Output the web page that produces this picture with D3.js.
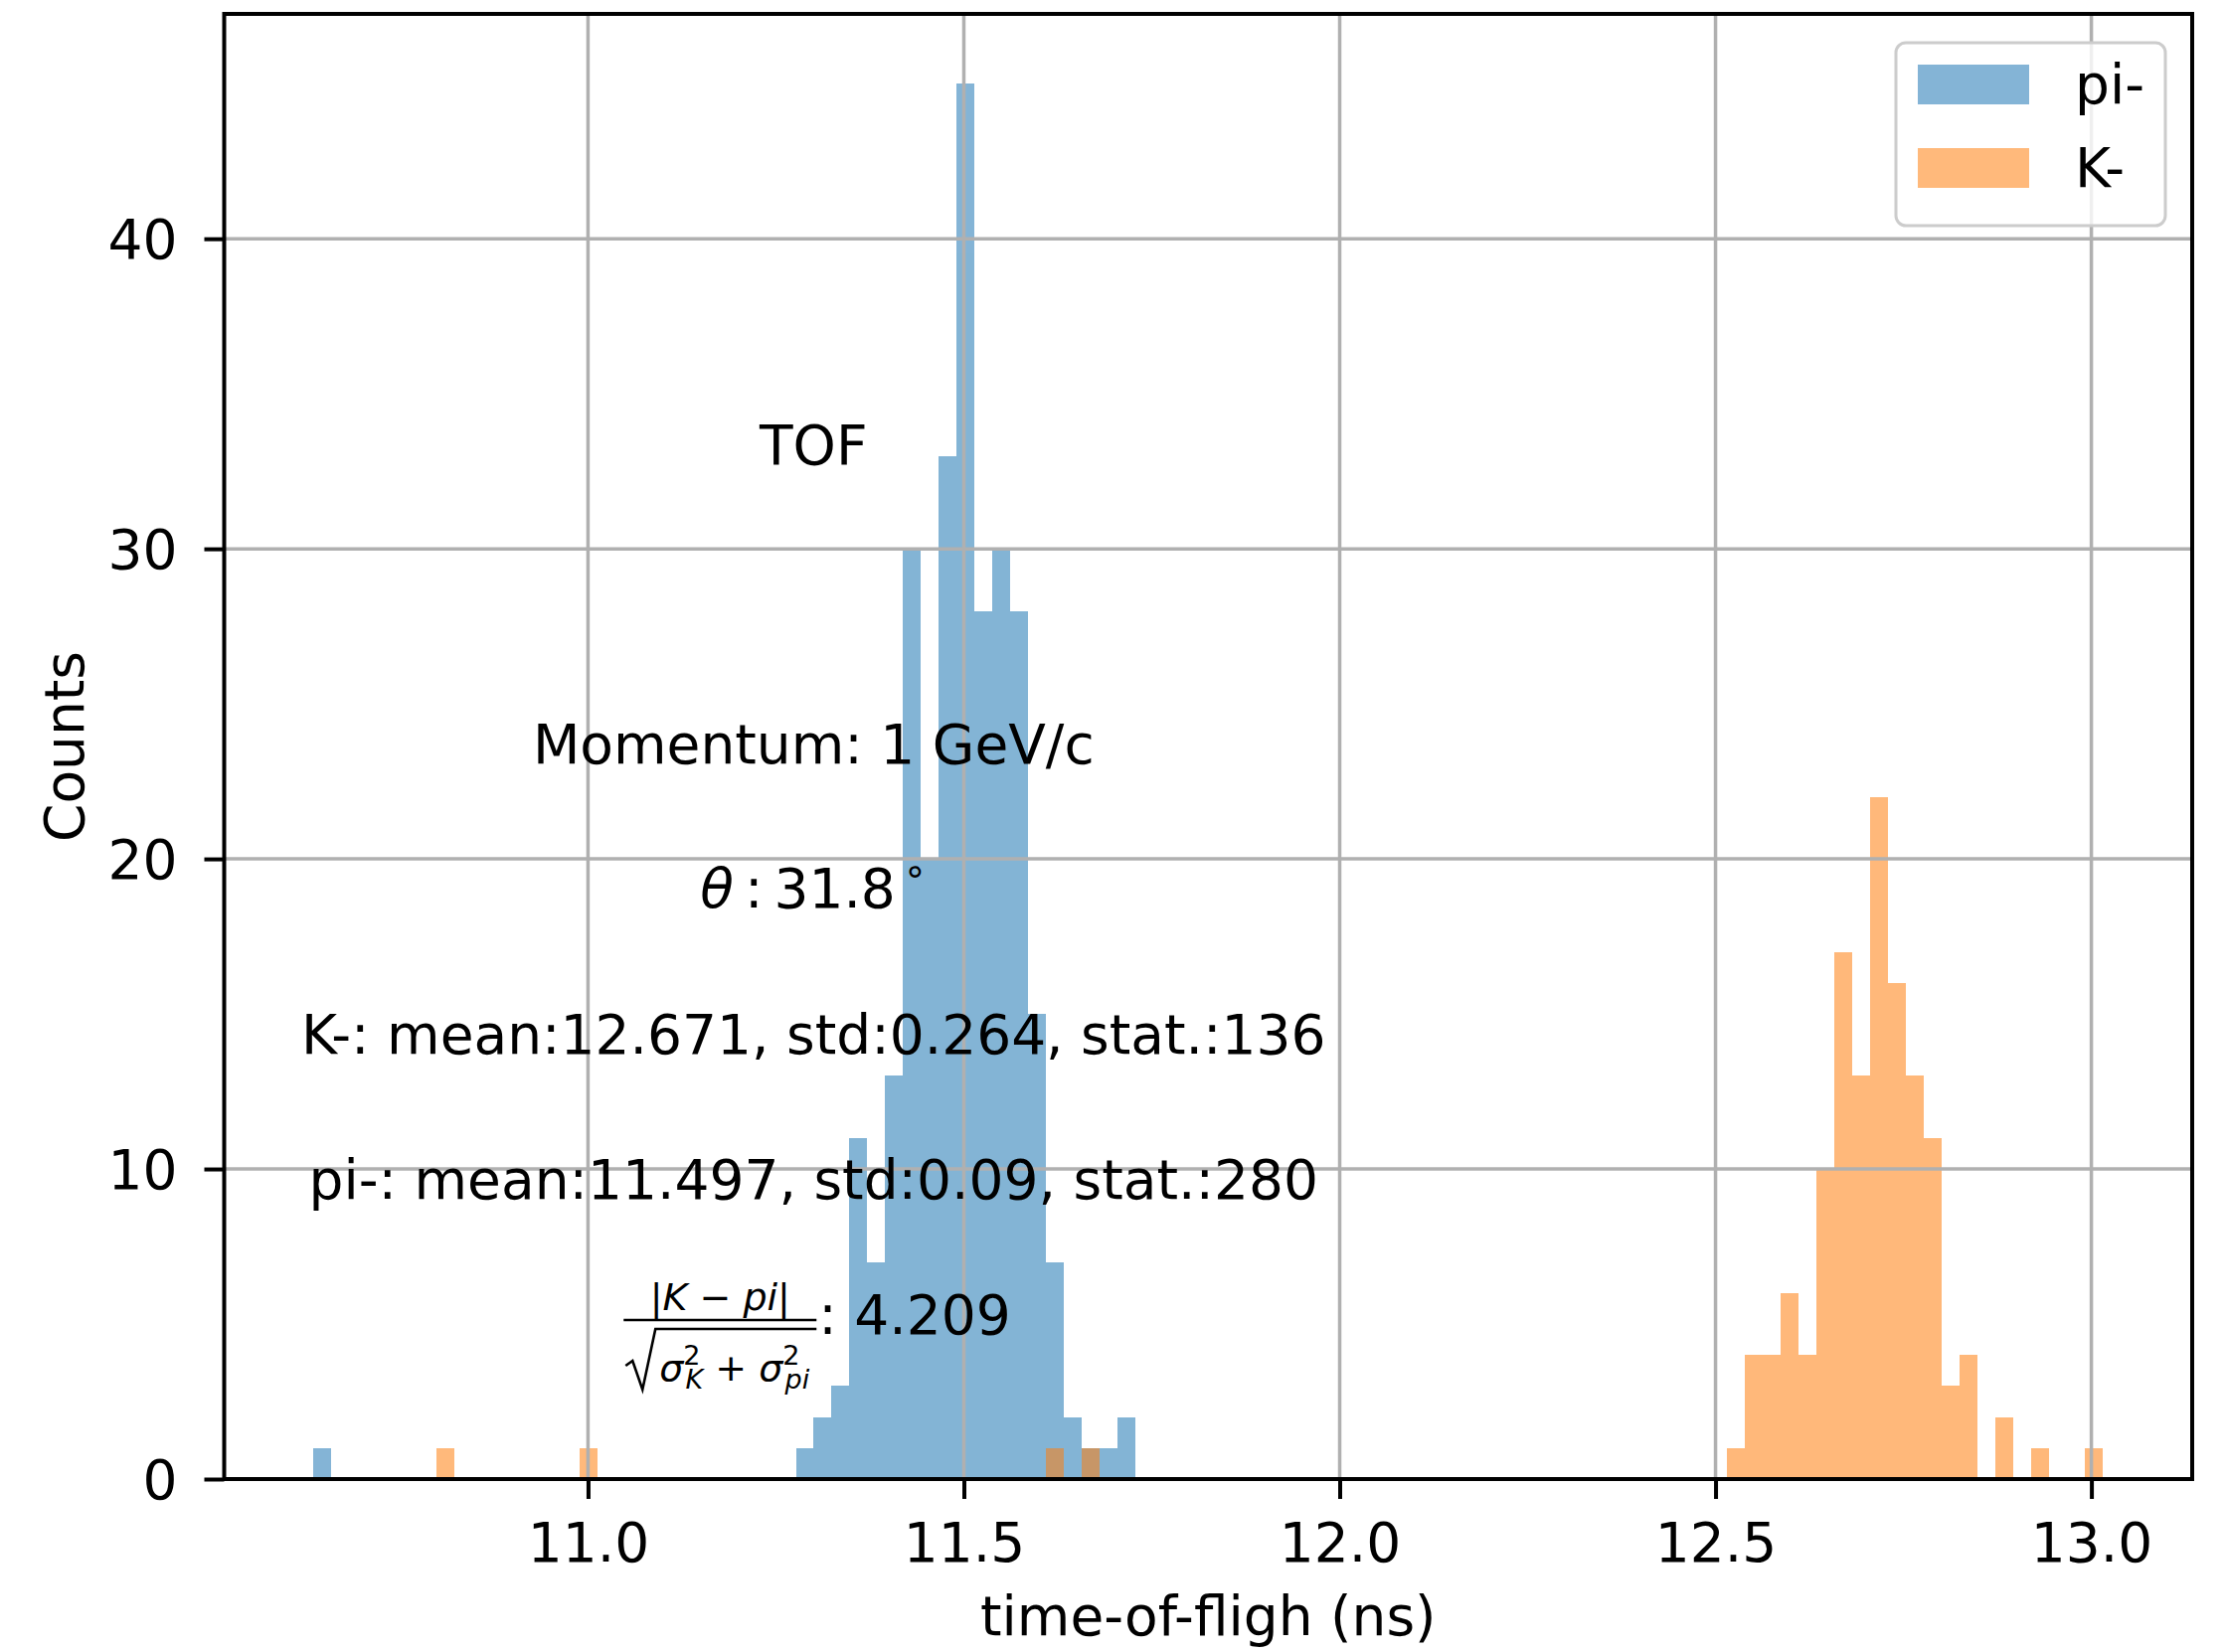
<!DOCTYPE html>
<html>
<head>
<meta charset="utf-8">
<script src="https://cdn.jsdelivr.net/npm/d3@7"></script>
<style>
  html, body { margin: 0; padding: 0; background: #ffffff; }
  svg { display: block; }
  text { font-family: "DejaVu Sans", sans-serif; fill: #000; }
</style>
</head>
<body>
<svg id="chart" width="2238" height="1662"></svg>
<script>
// ---------------- data ----------------
const seriesNames = ["pi-", "K-"];
const seriesColors = ["#1f77b4", "#ff7f0e"];

// pi- histogram: 46 bins
const piBinStart = 10.635;
const piBinWidth = 0.02376;
const piCounts = [
  1, 0, 0, 0, 0, 0, 0, 0, 0, 0,
  0, 0, 0, 0, 0, 0, 0, 0, 0, 0,
  0, 0, 0, 0, 0, 0, 0,
  1, 2, 3, 11, 7, 13, 30, 20, 33, 45, 28, 30, 28, 15, 7, 2, 1, 1, 2
];

// K- histogram: 93 bins
const kBinStart = 10.798;
const kBinWidth = 0.02384;
const kCounts = [
  1, 0, 0, 0, 0, 0, 0, 0, 1, 0,
  0, 0, 0, 0, 0, 0, 0, 0, 0, 0,
  0, 0, 0, 0, 0, 0, 0, 0, 0, 0,
  0, 0, 0, 0, 1, 0, 1, 0, 0, 0,
  0, 0, 0, 0, 0, 0, 0, 0, 0, 0,
  0, 0, 0, 0, 0, 0, 0, 0, 0, 0,
  0, 0, 0, 0, 0, 0, 0, 0, 0, 0,
  0, 0,
  1, 4, 4, 6, 4, 10, 17, 13, 22, 16, 13, 11, 3, 4, 0, 2, 0, 1, 0, 0, 1
];

const xTicks = [11.0, 11.5, 12.0, 12.5, 13.0];
const xTickLabels = ["11.0", "11.5", "12.0", "12.5", "13.0"];
const yTicks = [0, 10, 20, 30, 40];
const yTickLabels = ["0", "10", "20", "30", "40"];

const xLabel = "time-of-fligh (ns)";
const yLabel = "Counts";

const titleText = "TOF";
const momentumText = "Momentum: 1 GeV/c";
const thetaValue = "31.8";
const kStatsText = "K-: mean:12.671, std:0.264, stat.:136";
const piStatsText = "pi-: mean:11.497, std:0.09, stat.:280";
const separationValue = "4.209";

// annotation anchors (data coordinates)
const annX = 11.30;
const annY = { title: 32.73, momentum: 23.08, theta: 18.43, k: 13.72, pi: 9.04, sep: 4.68 };

// ---------------- layout ----------------
const W = 2238, H = 1662;
const plot = { left: 225.5, right: 2205, top: 14, bottom: 1488 };
const FS = 55;
const gridColor = "#b0b0b0";
const alpha = 0.55;

const svg = d3.select("#chart");

const piBins = piCounts.map((c, i) => ({ x0: piBinStart + i * piBinWidth, x1: piBinStart + (i + 1) * piBinWidth, c }));
const kBins = kCounts.map((c, i) => ({ x0: kBinStart + i * kBinWidth, x1: kBinStart + (i + 1) * kBinWidth, c }));

const dataMin = Math.min(piBins[0].x0, kBins[0].x0);
const dataMax = Math.max(piBins[piBins.length - 1].x1, kBins[kBins.length - 1].x1);
const span = dataMax - dataMin;
const yMax = d3.max(piCounts.concat(kCounts)) * 1.05;

const x = d3.scaleLinear().domain([dataMin - 0.05 * span, dataMax + 0.05 * span]).range([plot.left, plot.right]);
const y = d3.scaleLinear().domain([0, yMax]).range([plot.bottom, plot.top]);

// bars
[[piBins, 0], [kBins, 1]].forEach(([bins, si]) => {
  svg.append("g")
    .attr("opacity", alpha)
    .attr("fill", seriesColors[si])
    .selectAll("rect")
    .data(bins.filter(b => b.c > 0))
    .join("rect")
    .attr("shape-rendering", "crispEdges")
    .attr("x", d => x(d.x0))
    .attr("width", d => x(d.x1) - x(d.x0))
    .attr("y", d => y(d.c))
    .attr("height", d => y(0) - y(d.c));
});

// grid
const grid = svg.append("g").attr("stroke", gridColor).attr("stroke-width", 3.5);
grid.selectAll("line.vx").data(xTicks).join("line")
  .attr("x1", d => x(d)).attr("x2", d => x(d))
  .attr("y1", plot.top).attr("y2", plot.bottom);
grid.selectAll("line.hy").data(yTicks).join("line")
  .attr("y1", d => y(d)).attr("y2", d => y(d))
  .attr("x1", plot.left).attr("x2", plot.right);

// axes
const xAxis = d3.axisBottom(x).tickValues(xTicks).tickFormat((d, i) => xTickLabels[i]).tickSize(20).tickPadding(24);
const yAxis = d3.axisLeft(y).tickValues(yTicks).tickFormat((d, i) => yTickLabels[i]).tickSize(20).tickPadding(27);

const gx = svg.append("g").attr("transform", `translate(0,${plot.bottom})`).call(xAxis);
const gy = svg.append("g").attr("transform", `translate(${plot.left},0)`).call(yAxis);
[gx, gy].forEach(g => {
  g.select(".domain").remove();
  g.selectAll(".tick line").attr("stroke", "#000").attr("stroke-width", 4);
  g.selectAll(".tick text").attr("font-size", FS).attr("font-family", "DejaVu Sans").attr("fill", "#000");
});
gy.selectAll(".tick text").attr("dy", "0.36em");

// spines
svg.append("rect")
  .attr("x", plot.left).attr("y", plot.top)
  .attr("width", plot.right - plot.left).attr("height", plot.bottom - plot.top)
  .attr("fill", "none").attr("stroke", "#000").attr("stroke-width", 4);

// axis labels
svg.append("text").attr("x", (plot.left + plot.right) / 2).attr("y", 1645)
  .attr("text-anchor", "middle").attr("font-size", FS).text(xLabel);
svg.append("text").attr("transform", `translate(84,${(plot.top + plot.bottom) / 2}) rotate(-90)`)
  .attr("text-anchor", "middle").attr("font-size", FS).text(yLabel);

// annotations
const cx = x(annX);
const ann = svg.append("g");
ann.append("text").attr("x", cx).attr("y", y(annY.title)).attr("text-anchor", "middle").attr("font-size", FS).text(titleText);
ann.append("text").attr("x", cx).attr("y", y(annY.momentum)).attr("text-anchor", "middle").attr("font-size", FS).text(momentumText);

const th = ann.append("text").attr("x", cx).attr("y", y(annY.theta)).attr("text-anchor", "middle").attr("font-size", FS);
th.append("tspan").attr("font-style", "italic").text("θ");
th.append("tspan").text("\u2009:\u200931.8".replace("31.8", thetaValue));
th.append("tspan").attr("font-size", 38).attr("dy", -24).text("\u2009∘");

ann.append("text").attr("x", cx).attr("y", y(annY.k)).attr("text-anchor", "middle").attr("font-size", FS).text(kStatsText);
ann.append("text").attr("x", cx).attr("y", y(annY.pi)).attr("text-anchor", "middle").attr("font-size", FS).text(piStatsText);

// separation: fraction |K - pi| / sqrt(sigma_K^2 + sigma_pi^2) : value
const sb = y(annY.sep);          // baseline of the line
const fx0 = cx - 191;            // left of fraction
const fw = 194;                  // fraction width
const fr = ann.append("g");
fr.append("line").attr("x1", fx0).attr("x2", fx0 + fw).attr("y1", sb - 14).attr("y2", sb - 14)
  .attr("stroke", "#000").attr("stroke-width", 2.6);
// numerator
const num = fr.append("text").attr("x", fx0 + fw / 2).attr("y", sb - 24).attr("text-anchor", "middle").attr("font-size", 38);
num.append("tspan").text("|");
num.append("tspan").attr("font-style", "italic").text("K");
num.append("tspan").text(" − ");
num.append("tspan").attr("font-style", "italic").text("pi");
num.append("tspan").text("|");
// sqrt sign + vinculum
const rx = fx0 + 2;
fr.append("path")
  .attr("d", `M${rx},${sb + 32} L${rx + 7},${sb + 27} L${rx + 17},${sb + 56} L${rx + 30},${sb - 5} L${fx0 + fw},${sb - 5}`)
  .attr("fill", "none").attr("stroke", "#000").attr("stroke-width", 2.6).attr("stroke-linejoin", "miter");
// denominator
const den = fr.append("text").attr("x", rx + 34).attr("y", sb + 47).attr("font-size", 38);
den.append("tspan").attr("font-style", "italic").text("σ");
den.append("tspan").attr("font-size", 27).attr("dy", -16).text("2");
den.append("tspan").attr("font-size", 27).attr("font-style", "italic").attr("dx", -15).attr("dy", 24).text("K");
den.append("tspan").attr("dy", -8).text(" + ");
den.append("tspan").attr("font-style", "italic").text("σ");
den.append("tspan").attr("font-size", 27).attr("dy", -16).text("2");
den.append("tspan").attr("font-size", 27).attr("font-style", "italic").attr("dx", -15).attr("dy", 24).text("pi");
// value
ann.append("text").attr("x", fx0 + fw + 2).attr("y", sb).attr("font-size", FS).text(": " + separationValue);

// legend
const lg = svg.append("g");
lg.append("rect").attr("x", 1907).attr("y", 43).attr("width", 271).attr("height", 184)
  .attr("rx", 10).attr("fill", "#fff").attr("fill-opacity", 0.8)
  .attr("stroke", "#cccccc").attr("stroke-width", 3);
seriesNames.forEach((n, i) => {
  const yy = 65 + i * 84;
  lg.append("rect").attr("x", 1929).attr("y", yy).attr("width", 112).attr("height", 40)
    .attr("fill", seriesColors[i]).attr("opacity", alpha);
  lg.append("text").attr("x", 2087).attr("y", yy + 39).attr("font-size", FS).text(n);
});
</script>
</body>
</html>
